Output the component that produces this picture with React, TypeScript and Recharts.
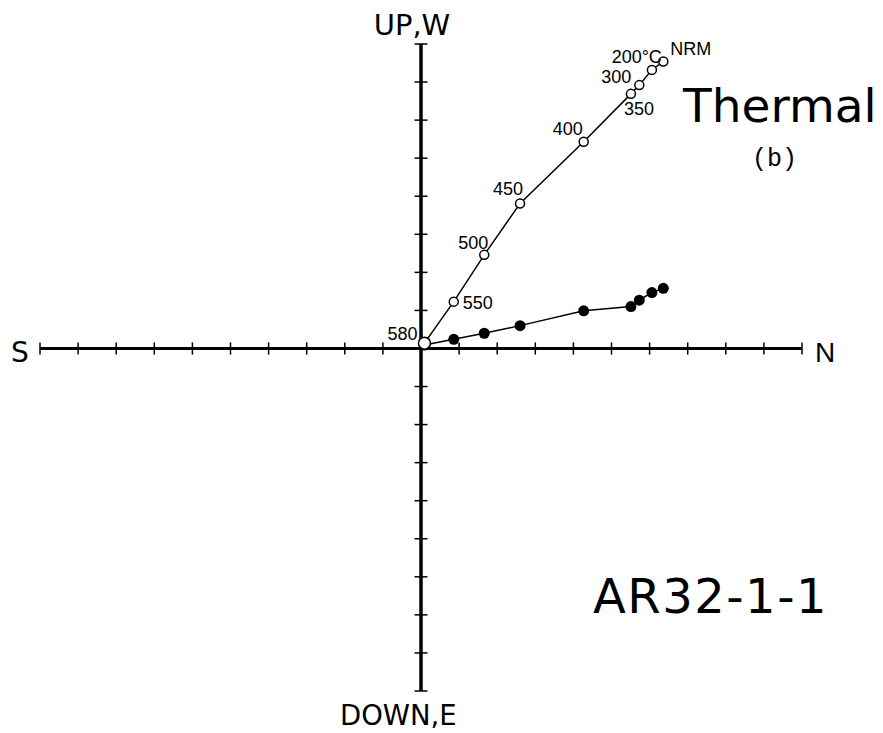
import React from 'react';
import { ScatterChart, Scatter, XAxis, YAxis, ReferenceLine, Customized } from 'recharts';

// demagnetisation steps and their components (axis units = tick spacing)
const steps = ['NRM', '200', '300', '350', '400', '450', '500', '550', '580'];
const stepLabels = ['NRM', '200°C', '300', '350', '400', '450', '500', '550', '580'];
const north = [6.36, 6.06, 5.73, 5.51, 4.27, 2.6, 1.66, 0.86, 0.09];
const up = [7.54, 7.32, 6.92, 6.69, 5.43, 3.81, 2.46, 1.23, 0.14];
const west = [1.58, 1.47, 1.27, 1.1, 0.99, 0.6, 0.4, 0.24, 0.09];

const xTicks = [-10, -9, -8, -7, -6, -5, -4, -3, -2, -1, 1, 2, 3, 4, 5, 6, 7, 8, 9, 10];
const yTicks = [-9, -8, -7, -6, -5, -4, -3, -2, -1, 1, 2, 3, 4, 5, 6, 7, 8];

const verticalData = steps.map((s, i) => ({ n: north[i], v: up[i], step: s, label: stepLabels[i] }));
const horizontalData = steps.map((s, i) => ({ n: north[i], v: west[i], step: s }));

// label placement around each open circle: dx, dy, anchor
const labelPos: Record<string, [number, number, 'start' | 'end']> = {
  NRM: [7, -7, 'start'],
  '200': [10, -7, 'end'],
  '300': [-8, -2, 'end'],
  '350': [-7, 21, 'start'],
  '400': [-1, -7, 'end'],
  '450': [3, -8, 'end'],
  '500': [4, -6, 'end'],
  '550': [9, 7, 'start'],
  '580': [-7, -3, 'end'],
};

const OpenDot = (props: any) => {
  const { cx, cy, payload } = props;
  const [dx, dy, anchor] = labelPos[payload.step];
  const r = payload.step === '580' ? 6 : 4.5;
  return (
    <g>
      <circle cx={cx} cy={cy} r={r} fill="#fff" stroke="#000" strokeWidth={1.5} />
      <text x={cx + dx} y={cy + dy} textAnchor={anchor} fontSize={18} fontFamily="Liberation Sans, Arial" fill="#000">
        {payload.label}
      </text>
    </g>
  );
};

const FilledDot = (props: any) => {
  const { cx, cy } = props;
  return <circle cx={cx} cy={cy} r={5.5} fill="#000" />;
};

const Annotations = () => (
  <g fill="#000" fontFamily="DejaVu Sans, sans-serif">
    <text x={412} y={35} textAnchor="middle" fontSize={29}>UP,W</text>
    <text x={340} y={725} fontSize={27.5}>DOWN,E</text>
    <text x={11} y={362} fontSize={28}>S</text>
    <text x={815} y={362} fontSize={28} fontFamily="Liberation Sans, Arial">N</text>
    <text x={683} y={122} fontSize={47}>Thermal</text>
    <text x={752} y={166} fontSize={25} fontFamily="Liberation Mono, monospace">(b)</text>
    <text x={593} y={613} fontSize={48} letterSpacing={1.5}>AR32-1-1</text>
  </g>
);

export default function App() {
  return (
    <div style={{ position: 'absolute', left: 0, top: 0, background: '#fff' }}>
      <ScatterChart width={883} height={733} margin={{ top: 44, right: 81, bottom: 42, left: 40 }}>
        <XAxis type="number" dataKey="n" domain={[-10, 10]} hide />
        <YAxis type="number" dataKey="v" domain={[-9, 8]} hide />
        <ReferenceLine y={0} stroke="#000" strokeWidth={3} />
        <ReferenceLine x={0} stroke="#000" strokeWidth={3.5} />
        {xTicks.map((t) => (
          <ReferenceLine key={'xt' + t} segment={[{ x: t, y: -0.16 }, { x: t, y: 0.16 }]} stroke="#000" strokeWidth={1.5} />
        ))}
        {yTicks.map((t) => (
          <ReferenceLine key={'yt' + t} segment={[{ x: -0.17, y: t }, { x: 0.17, y: t }]} stroke="#000" strokeWidth={1.5} />
        ))}
        <Scatter
          data={horizontalData}
          line={{ stroke: '#000', strokeWidth: 1.5 }}
          lineType="joint"
          shape={FilledDot}
          isAnimationActive={false}
        />
        <Scatter
          data={verticalData}
          line={{ stroke: '#000', strokeWidth: 1.5 }}
          lineType="joint"
          shape={OpenDot}
          isAnimationActive={false}
        />
        <Customized component={Annotations} />
      </ScatterChart>
    </div>
  );
}
